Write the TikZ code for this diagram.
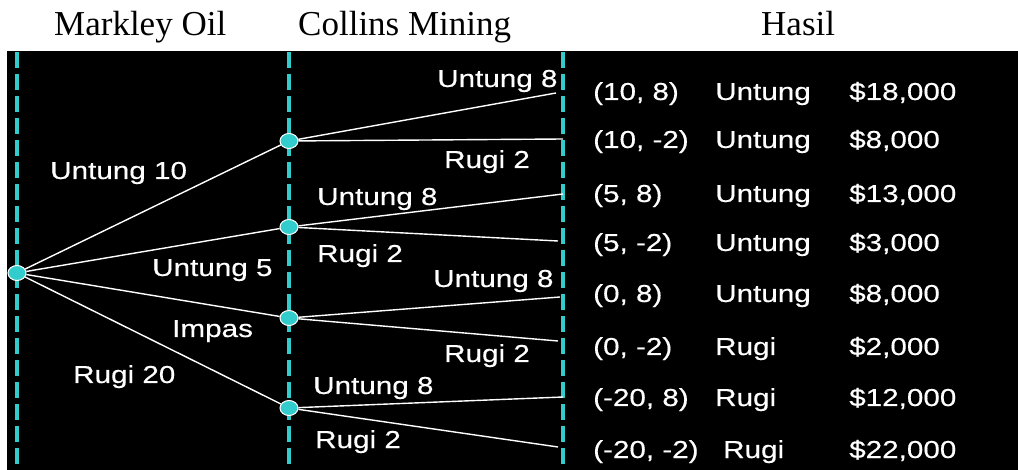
\documentclass[tikz,border=0pt]{standalone}
\usepackage{fontspec}
\usetikzlibrary{shapes.geometric}
\setmainfont{Liberation Serif}
\newfontfamily\arialx[FakeStretch=1.21,FakeBold=0.4]{Liberation Sans}
\definecolor{tealc}{RGB}{51,204,204}
\begin{document}
\begin{tikzpicture}[x=1pt,y=-1pt,
  title/.style={anchor=base west,inner sep=0pt,font=\fontsize{35}{40}\selectfont},
  lbl/.style={anchor=base west,inner sep=0pt,text=white,font=\arialx\fontsize{24.5}{28}\selectfont},
  guide/.style={draw=tealc,line width=3.5pt,dash pattern=on 16pt off 6pt},
  chance/.style={ellipse,draw=white,line width=1pt,fill=tealc,minimum width=18pt,minimum height=15pt,inner sep=0pt},
  branch/.style={draw=white,line width=1.4pt}]
\useasboundingbox (0,0) rectangle (1018,470);
\fill[white] (0,0) rectangle (1018,470);
\fill[black] (7,51) rectangle (1018,470);
% titles
\node[title] (t1) at (54,36) {Markley Oil};
\node[title] (t2) at (298,36) {Collins Mining};
\node[title] (t3) at (761,36) {Hasil};
% guide lines
\coordinate (g1a) at (17,52); \coordinate (g1b) at (17,470);
\coordinate (g2a) at (289,52); \coordinate (g2b) at (289,470);
\coordinate (g3a) at (563,52); \coordinate (g3b) at (563,470);
\draw[guide] (g1a) -- (g1b);
\draw[guide] (g2a) -- (g2b);
\draw[guide] (g3a) -- (g3b);
% end points
\coordinate (e1) at (556,93);  \coordinate (e2) at (563,139);
\coordinate (e3) at (563,194); \coordinate (e4) at (558,241);
\coordinate (e5) at (560,297); \coordinate (e6) at (558,341);
\coordinate (e7) at (563,397); \coordinate (e8) at (558,447);
% nodes
\node[chance] (r) at (17,273) {};
\node[chance] (m1) at (289,141) {};
\node[chance] (m2) at (289,227) {};
\node[chance] (m3) at (289,318) {};
\node[chance] (m4) at (289,408) {};
% branches
\draw[branch] (r) -- (m1);
\draw[branch] (r) -- (m2);
\draw[branch] (r) -- (m3);
\draw[branch] (r) -- (m4);
\draw[branch] (m1) -- (e1);
\draw[branch] (m1) -- (e2);
\draw[branch] (m2) -- (e3);
\draw[branch] (m2) -- (e4);
\draw[branch] (m3) -- (e5);
\draw[branch] (m3) -- (e6);
\draw[branch] (m4) -- (e7);
\draw[branch] (m4) -- (e8);
% first level labels
\node[lbl] (l1) at (50,179) {Untung 10};
\node[lbl] (l2) at (152,276) {Untung 5};
\node[lbl] (l3) at (172,337) {Impas};
\node[lbl] (l4) at (73,383) {Rugi 20};
% second level labels
\node[lbl] (a1) at (437,87) {Untung 8};
\node[lbl] (b1) at (444,168) {Rugi 2};
\node[lbl] (a2) at (317,205) {Untung 8};
\node[lbl] (b2) at (317,262) {Rugi 2};
\node[lbl] (a3) at (433,287) {Untung 8};
\node[lbl] (b3) at (444,362) {Rugi 2};
\node[lbl] (a4) at (313,394) {Untung 8};
\node[lbl] (b4) at (315,448) {Rugi 2};
% results
\node[lbl] (p1) at (593,100) {(10, 8)};
\node[lbl] (s1) at (715,100) {Untung};
\node[lbl] (v1) at (849,100) {\$18,000};
\node[lbl] (p2) at (593,148) {(10, -2)};
\node[lbl] (s2) at (715,148) {Untung};
\node[lbl] (v2) at (849,148) {\$8,000};
\node[lbl] (p3) at (593,202) {(5, 8)};
\node[lbl] (s3) at (715,202) {Untung};
\node[lbl] (v3) at (849,202) {\$13,000};
\node[lbl] (p4) at (593,251) {(5, -2)};
\node[lbl] (s4) at (715,251) {Untung};
\node[lbl] (v4) at (849,251) {\$3,000};
\node[lbl] (p5) at (593,302) {(0, 8)};
\node[lbl] (s5) at (715,302) {Untung};
\node[lbl] (v5) at (849,302) {\$8,000};
\node[lbl] (p6) at (593,355) {(0, -2)};
\node[lbl] (s6) at (715,355) {Rugi};
\node[lbl] (v6) at (849,355) {\$2,000};
\node[lbl] (p7) at (593,406) {(-20, 8)};
\node[lbl] (s7) at (715,406) {Rugi};
\node[lbl] (v7) at (849,406) {\$12,000};
\node[lbl] (p8) at (593,458) {(-20, -2)};
\node[lbl] (s8) at (723,458) {Rugi};
\node[lbl] (v8) at (849,458) {\$22,000};
\end{tikzpicture}
\end{document}
